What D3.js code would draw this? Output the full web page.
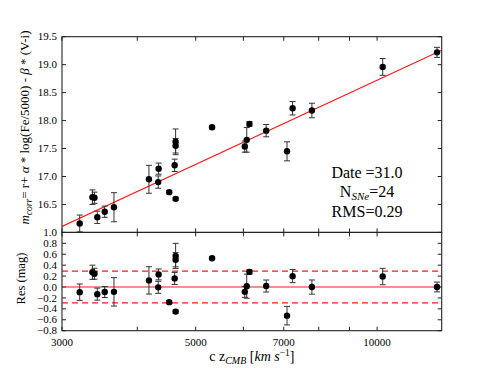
<!DOCTYPE html>
<html><head><meta charset="utf-8">
<script src="https://cdn.jsdelivr.net/npm/d3@7"></script>
<style>
html,body{margin:0;padding:0;background:#fff;}
svg text{font-family:"Liberation Serif","Times New Roman",serif;fill:#000;}
</style></head><body>
<svg id="chart" width="491" height="368"></svg>
<script>
// ---- data ----
const czCMB = [3210, 3370, 3396, 3433, 3532, 3659, 4182, 4340, 4333, 4519, 4631, 4631, 4614, 4631, 5323, 6031, 6077, 6140, 6546, 7088, 7241, 7795, 10217, 12573];
const mCorr = [16.16, 16.63, 16.62, 16.27, 16.37, 16.45, 16.95, 17.14, 16.90, 16.72, 17.62, 17.55, 17.20, 16.60, 17.88, 17.535, 17.655, 17.94, 17.82, 17.45, 18.22, 18.18, 18.96, 19.22];
const mErr  = [0.15, 0.13, 0.10, 0.11, 0.10, 0.26, 0.25, 0.10, 0.11, 0.03, 0.23, 0.13, 0.11, 0.03, 0.03, 0.10, 0.22, 0.04, 0.11, 0.17, 0.12, 0.13, 0.15, 0.09];
const fitSlope = 5.0;
const fitIntercept = -1.278;
const rms = 0.29;
const xTickLabels = [3000, 5000, 7000, 10000];
const xMinorTicks = [4000, 6000, 8000, 9000];
const yTopTicks = [16.5, 17.0, 17.5, 18.0, 18.5, 19.0, 19.5];
const yBotTicks = [-0.8, -0.6, -0.4, -0.2, 0.0, 0.2, 0.4, 0.6, 0.8, 1.0];
const infoLines = ["Date =31.0", "N_SNe=24", "RMS=0.29"];

// ---- layout ----
const L = 62, R = 441.7, T = 36.7, MID = 232.4, B = 330.7;
const svg = d3.select("#chart");
const x = d3.scaleLog().domain([3000, 12800]).range([L, R]);
const yTop = d3.scaleLinear().domain([16.0, 19.5]).range([MID, T]);
const yBot = d3.scaleLinear().domain([-0.8, 1.0]).range([B, MID]);
const fit = c => fitSlope * Math.log10(c) + fitIntercept;
const data = czCMB.map((c, i) => ({c, m: mCorr[i], e: mErr[i], r: mCorr[i] - fit(c)}));

const RED = "#ff1a1a", AX = "#222";
const defs = svg.append("defs");
defs.append("clipPath").attr("id", "cTop").append("rect").attr("x", L).attr("y", T).attr("width", R - L).attr("height", MID - T);
defs.append("clipPath").attr("id", "cBot").append("rect").attr("x", L).attr("y", MID).attr("width", R - L).attr("height", B - MID);

function panel(y, top, bottom, yTicks, fmt, labelTicks) {
  const g = svg.append("g");
  const all = xTickLabels.concat(xMinorTicks);
  all.forEach(v => {
    g.append("line").attr("x1", x(v)).attr("x2", x(v)).attr("y1", top).attr("y2", top + 4).attr("stroke", AX);
    g.append("line").attr("x1", x(v)).attr("x2", x(v)).attr("y1", bottom).attr("y2", bottom - 4).attr("stroke", AX);
  });
  yTicks.forEach(v => {
    g.append("line").attr("x1", L).attr("x2", L + 4).attr("y1", y(v)).attr("y2", y(v)).attr("stroke", AX);
    g.append("line").attr("x1", R).attr("x2", R - 4).attr("y1", y(v)).attr("y2", y(v)).attr("stroke", AX);
  });
  labelTicks.forEach(v => {
    g.append("text").attr("x", L - 5).attr("y", y(v) + 3.6).attr("text-anchor", "end")
      .attr("font-size", 11).text(fmt(v));
  });
  return g;
}
const fmt1 = v => (v < 0 ? "\u2212" : "") + Math.abs(v).toFixed(1);
panel(yTop, T, MID, yTopTicks, fmt1, yTopTicks);
panel(yBot, MID, B, yBotTicks, fmt1, yBotTicks);

// ---- top panel ----
const gT = svg.append("g").attr("clip-path", "url(#cTop)");
const dom = x.domain();
gT.append("path").datum(dom)
  .attr("d", d3.line().x(d => x(d)).y(d => yTop(fit(d))))
  .attr("stroke", RED).attr("stroke-width", 1.1).attr("fill", "none");
function errBars(g, y, key) {
  const eb = g.selectAll(null).data(data).enter().append("g").attr("stroke", "#333").attr("stroke-width", 1);
  eb.append("line").attr("x1", d => x(d.c)).attr("x2", d => x(d.c)).attr("y1", d => y(d[key] - d.e)).attr("y2", d => y(d[key] + d.e));
  eb.append("line").attr("x1", d => x(d.c) - 3).attr("x2", d => x(d.c) + 3).attr("y1", d => y(d[key] - d.e)).attr("y2", d => y(d[key] - d.e));
  eb.append("line").attr("x1", d => x(d.c) - 3).attr("x2", d => x(d.c) + 3).attr("y1", d => y(d[key] + d.e)).attr("y2", d => y(d[key] + d.e));
  g.selectAll(null).data(data).enter().append("circle")
    .attr("cx", d => x(d.c)).attr("cy", d => y(d[key])).attr("r", 3.2).attr("fill", "#000");
}
errBars(gT, yTop, "m");

// ---- bottom panel ----
const gB = svg.append("g").attr("clip-path", "url(#cBot)");
[rms, -rms].forEach(v => {
  gB.append("line").attr("x1", L).attr("x2", R).attr("y1", yBot(v)).attr("y2", yBot(v))
    .attr("stroke", RED).attr("stroke-width", 1.1).attr("stroke-dasharray", "6,4");
});
gB.append("line").attr("x1", L).attr("x2", R).attr("y1", yBot(0)).attr("y2", yBot(0))
  .attr("stroke", RED).attr("stroke-width", 1.1);
errBars(gB, yBot, "r");

// frames
svg.append("rect").attr("x", L).attr("y", T).attr("width", R - L).attr("height", MID - T).attr("fill", "none").attr("stroke", AX).attr("stroke-width", 1.1);
svg.append("rect").attr("x", L).attr("y", MID).attr("width", R - L).attr("height", B - MID).attr("fill", "none").attr("stroke", AX).attr("stroke-width", 1.1);

// x tick labels
xTickLabels.forEach(v => {
  svg.append("text").attr("x", x(v)).attr("y", B + 15).attr("text-anchor", "middle").attr("font-size", 11).text(v);
});

// info text
const info = svg.append("g").attr("font-size", 16).attr("text-anchor", "middle");
info.append("text").attr("x", 367).attr("y", 178.3).text(infoLines[0]);
const t2 = info.append("text").attr("x", 367).attr("y", 196.5);
t2.append("tspan").text("N");
t2.append("tspan").attr("font-size", 11).attr("font-style", "italic").attr("dy", 3).text("SNe");
t2.append("tspan").attr("dy", -3).text("=24");
info.append("text").attr("x", 367).attr("y", 216.7).text(infoLines[2]);

// axis labels
const yl = svg.append("text").attr("transform", `translate(29,${(T + MID) / 2 - 7}) rotate(-90)`)
  .attr("text-anchor", "middle").attr("font-size", 13);
yl.append("tspan").attr("font-style", "italic").text("m");
yl.append("tspan").attr("font-style", "italic").attr("font-size", 9.5).attr("dy", 2.5).text("corr");
yl.append("tspan").attr("dy", -2.5).text("= r+ ");
yl.append("tspan").attr("font-style", "italic").text("\u03B1");
yl.append("tspan").text(" * log(Fe/5000) - ");
yl.append("tspan").attr("font-style", "italic").text("\u03B2");
yl.append("tspan").text(" * (V-i)");

svg.append("text").attr("transform", `translate(25,${(MID + B) / 2 - 3}) rotate(-90)`)
  .attr("text-anchor", "middle").attr("font-size", 12.5).text("Res (mag)");

const xl = svg.append("text").attr("x", (L + R) / 2).attr("y", 361).attr("text-anchor", "middle").attr("font-size", 14);
xl.append("tspan").text("c z");
xl.append("tspan").attr("font-style", "italic").attr("font-size", 10).attr("dy", 2.5).text("CMB");
xl.append("tspan").attr("dy", -2.5).text(" [");
xl.append("tspan").attr("font-style", "italic").text("km s");
xl.append("tspan").attr("font-size", 9.5).attr("dy", -5).text("\u22121");
xl.append("tspan").attr("dy", 5).text("]");
</script>
</body></html>
